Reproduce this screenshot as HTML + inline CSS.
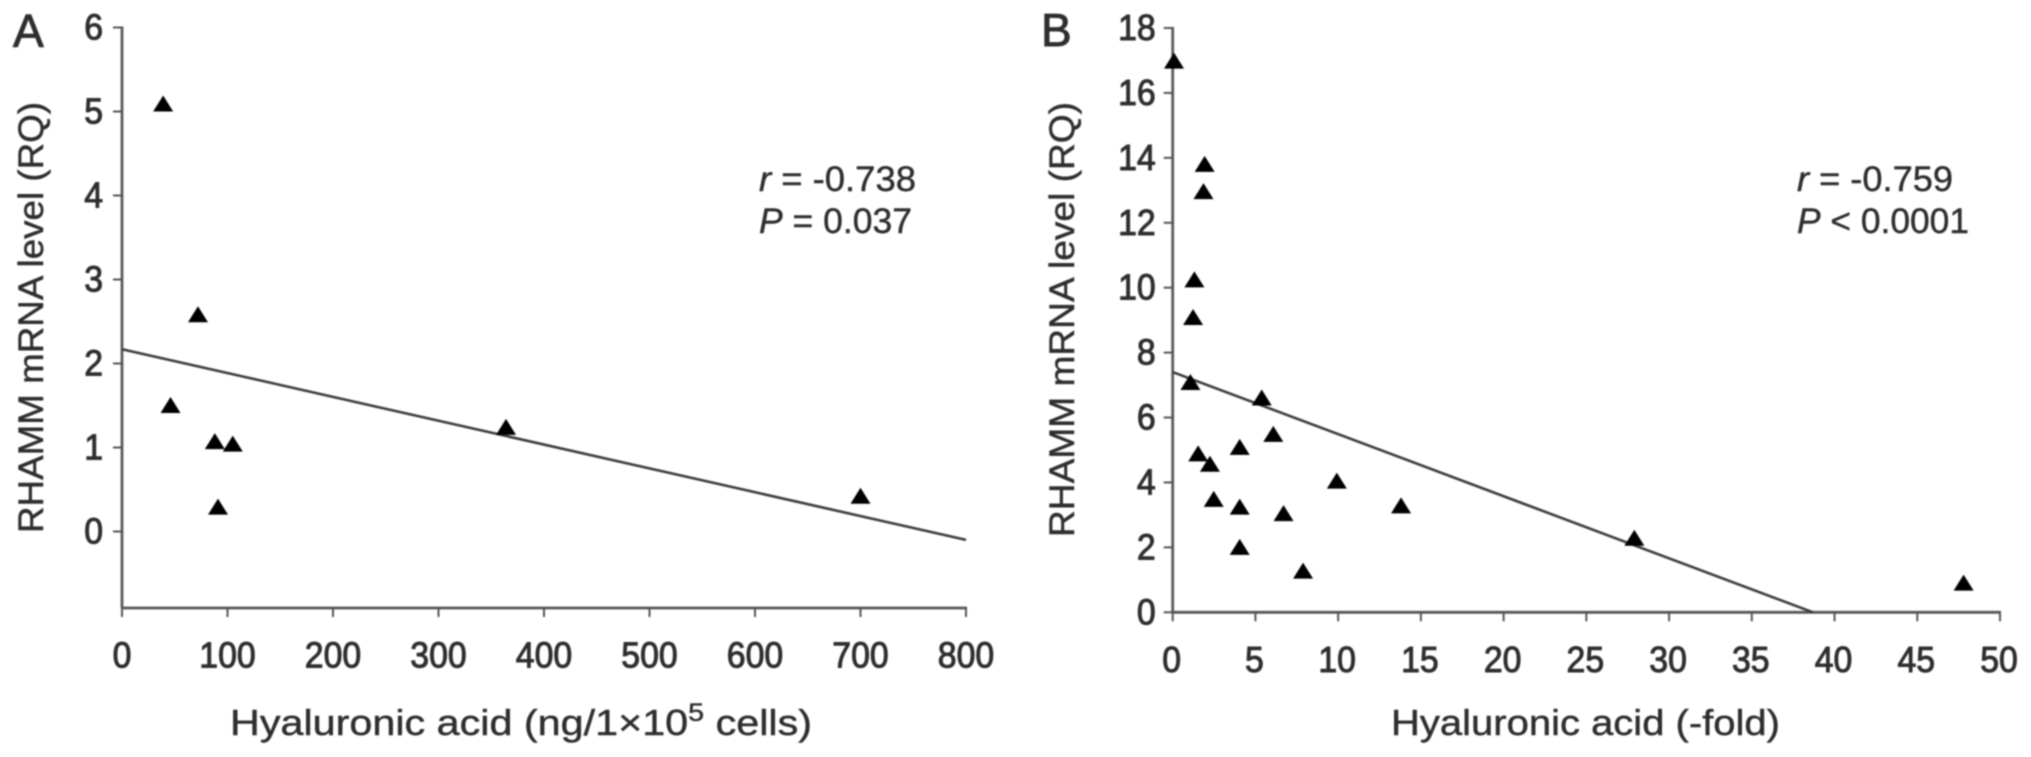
<!DOCTYPE html>
<html lang="en">
<head>
<meta charset="utf-8">
<title>RHAMM mRNA level vs hyaluronic acid</title>
<style>
html,body{margin:0;padding:0;background:#fff;width:2031px;height:757px;overflow:hidden}
svg{display:block;filter:blur(0.7px)}
text{font-family:"Liberation Sans",sans-serif;fill:#2e2e2e}
.title{stroke:#2e2e2e;stroke-width:0.45}
</style>
</head>
<body>
<svg id="figure" xmlns="http://www.w3.org/2000/svg" width="2031" height="757" viewBox="0 0 2031 757">
  <rect width="2031" height="757" fill="#fff"/>
  <text class="title" style="stroke-width:0.9" x="13" y="47" font-size="46">A</text>
  <text class="title" style="stroke-width:0.9" x="1041" y="46" font-size="46">B</text>
  <text class="title" transform="translate(43,533) rotate(-90)" font-size="35" textLength="431" lengthAdjust="spacingAndGlyphs">RHAMM mRNA level (RQ)</text>
  <text class="title" transform="translate(1074,537) rotate(-90)" font-size="35" textLength="435" lengthAdjust="spacingAndGlyphs">RHAMM mRNA level (RQ)</text>
  <text class="title" x="230" y="735" font-size="36" textLength="582" lengthAdjust="spacingAndGlyphs">Hyaluronic acid (ng/1×10<tspan dy="-14" font-size="25">5</tspan><tspan dy="14"> cells)</tspan></text>
  <text class="title" x="1391" y="735" font-size="36" textLength="389" lengthAdjust="spacingAndGlyphs">Hyaluronic acid (-fold)</text>
  <text class="title" x="759" y="191" font-size="35" textLength="157" lengthAdjust="spacingAndGlyphs"><tspan font-style="italic">r</tspan> = -0.738</text>
  <text class="title" x="759" y="233" font-size="35" textLength="153" lengthAdjust="spacingAndGlyphs"><tspan font-style="italic">P</tspan> = 0.037</text>
  <text class="title" x="1797" y="191" font-size="35" textLength="156" lengthAdjust="spacingAndGlyphs"><tspan font-style="italic">r</tspan> = -0.759</text>
  <text class="title" x="1797" y="233" font-size="35" textLength="172" lengthAdjust="spacingAndGlyphs"><tspan font-style="italic">P</tspan> &lt; 0.0001</text>
  <g id="panel-a"></g>
  <g id="panel-b"></g>
</svg>
<script>
var xTicksA = [0, 100, 200, 300, 400, 500, 600, 700, 800];
var yTicksA = [0, 1, 2, 3, 4, 5, 6];
var xValuesA = [39, 72, 46, 88, 105, 91, 364, 700];
var yValuesA = [5.09, 2.58, 1.5, 1.07, 1.04, 0.29, 1.24, 0.42];
var trendXA = [0, 800];
var trendYA = [2.17, -0.1];

var xTicksB = [0, 5, 10, 15, 20, 25, 30, 35, 40, 45, 50];
var yTicksB = [0, 2, 4, 6, 8, 10, 12, 14, 16, 18];
var xValuesB = [0.08, 1.93, 1.86, 1.31, 1.23, 1.07, 5.38, 6.08, 1.54, 4.05, 2.25, 2.48, 4.05, 6.7, 4.05, 7.88, 9.92, 13.8, 27.9, 47.8];
var yValuesB = [16.98, 13.8, 12.96, 10.24, 9.08, 7.08, 6.6, 5.48, 4.88, 5.08, 4.56, 3.48, 3.24, 3.04, 2, 1.27, 4.04, 3.28, 2.28, 0.9];
var trendXB = [0, 38.7];
var trendYB = [7.4, 0];

var NS = 'http://www.w3.org/2000/svg';

function drawLine(parent, x1, y1, x2, y2, width, color) {
  var l = document.createElementNS(NS, 'line');
  l.setAttribute('x1', x1);
  l.setAttribute('y1', y1);
  l.setAttribute('x2', x2);
  l.setAttribute('y2', y2);
  l.setAttribute('stroke', color);
  l.setAttribute('stroke-width', width);
  parent.appendChild(l);
  return l;
}

function drawLabel(parent, x, y, anchor, content) {
  var t = document.createElementNS(NS, 'text');
  t.setAttribute('x', x);
  t.setAttribute('y', y);
  t.setAttribute('text-anchor', anchor);
  t.setAttribute('font-size', '36');
  t.setAttribute('stroke', '#2e2e2e');
  t.setAttribute('stroke-width', '1');
  t.setAttribute('textLength', content.length * 18.8);
  t.setAttribute('lengthAdjust', 'spacingAndGlyphs');
  t.textContent = content;
  parent.appendChild(t);
  return t;
}

function drawPanel(parent, cfg) {
  var sx = function (v) { return cfg.x0 + (v - cfg.xMin) / (cfg.xMax - cfg.xMin) * (cfg.x1 - cfg.x0); };
  var sy = function (v) { return cfg.yBase + (v - cfg.yMin) / (cfg.yMax - cfg.yMin) * (cfg.yTop - cfg.yBase); };

  var yAxis = drawLine(parent, cfg.x0, sy(cfg.yMax) - 1, cfg.x0, cfg.axisY, 2.8, '#5a5a5a');
  
  
  var xAxis = drawLine(parent, cfg.x0 - 1, cfg.axisY, sx(cfg.xMax) + 1, cfg.axisY, 2.8, '#555');
  
  

  cfg.yTicks.forEach(function (v) {
    var tick = drawLine(parent, cfg.x0 - 9, sy(v), cfg.x0, sy(v), 2, '#555');
    
    
    var label = drawLabel(parent, cfg.x0 - cfg.labelGap, sy(v) + 12, 'end', String(v));
    
    
  });

  cfg.xTicks.forEach(function (v) {
    var tick = drawLine(parent, sx(v), cfg.axisY, sx(v), cfg.axisY + 9, 2, '#555');
    
    
    var label = drawLabel(parent, sx(v) + cfg.xLabelShift, cfg.axisY + 59.5, 'middle', String(v));
    
    
  });

  var trend = drawLine(parent, sx(cfg.trendX[0]), sy(cfg.trendY[0]), sx(cfg.trendX[1]), sy(cfg.trendY[1]), 2.6, '#3c3c3c');
  
  

  cfg.xValues.forEach(function (v, i) {
    var cx = sx(v);
    var cy = sy(cfg.yValues[i]);
    var p = document.createElementNS(NS, 'polygon');
    p.setAttribute('points', (cx - 10) + ',' + (cy + 7.5) + ' ' + (cx + 10) + ',' + (cy + 7.5) + ' ' + cx + ',' + (cy - 8.5));
    p.setAttribute('fill', '#000');
    
    
    parent.appendChild(p);
  });
}

drawPanel(document.getElementById('panel-a'), {
  x0: 122, x1: 966, xMin: 0, xMax: 800,
  yBase: 531.5, yTop: 27.5, yMin: 0, yMax: 6, axisY: 608,
  labelGap: 19, xLabelShift: 0,
  xTicks: xTicksA, yTicks: yTicksA,
  xValues: xValuesA, yValues: yValuesA,
  trendX: trendXA, trendY: trendYA
});

drawPanel(document.getElementById('panel-b'), {
  x0: 1172.7, x1: 2000, xMin: 0, xMax: 50,
  yBase: 612.3, yTop: 28, yMin: 0, yMax: 18, axisY: 612.3,
  labelGap: 17, xLabelShift: -1,
  xTicks: xTicksB, yTicks: yTicksB,
  xValues: xValuesB, yValues: yValuesB,
  trendX: trendXB, trendY: trendYB
});
</script>
</body>
</html>
